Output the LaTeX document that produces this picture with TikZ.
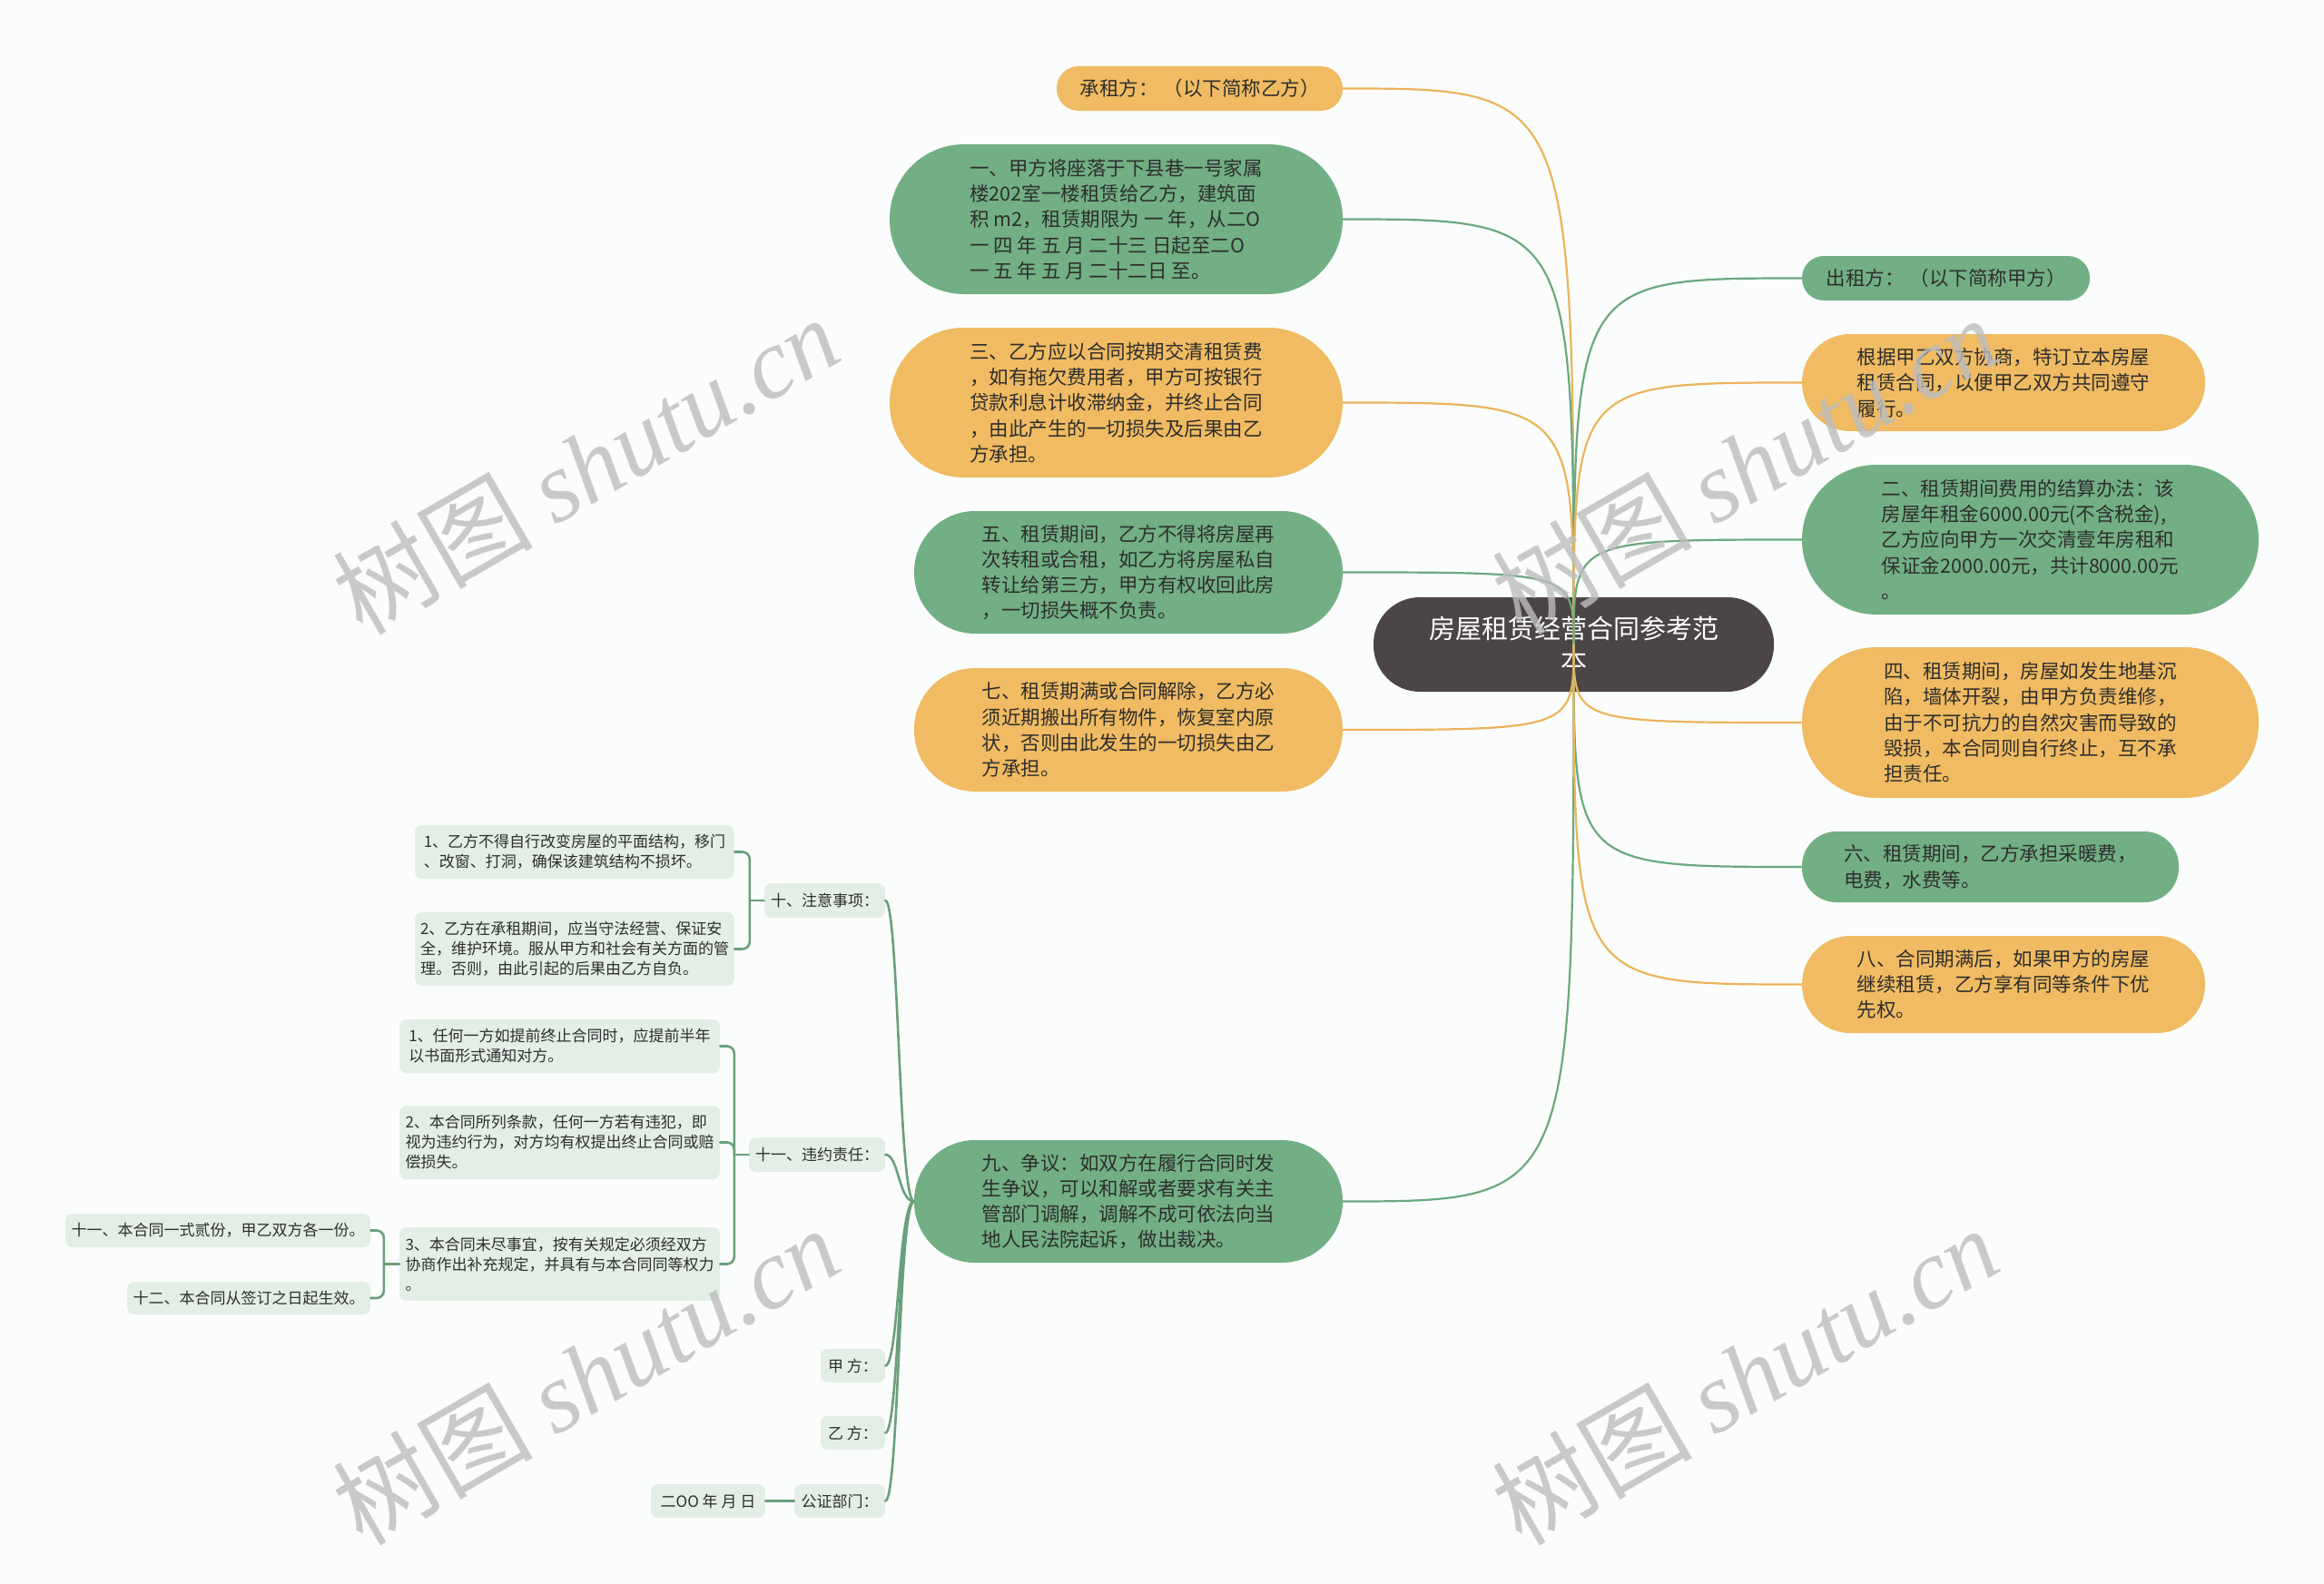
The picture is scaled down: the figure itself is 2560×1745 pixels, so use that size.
\documentclass[tikz,border=0pt]{standalone}
\usepackage{fontspec}
\setmainfont{Noto Sans CJK SC}
\newfontfamily\wmserif{Liberation Serif}
\usetikzlibrary{calc}
\definecolor{bgc}{HTML}{FAFDFC}
\definecolor{orng}{HTML}{F0BB62}
\definecolor{grn}{HTML}{72AF84}
\definecolor{rootc}{HTML}{4B4545}
\definecolor{lite}{HTML}{E3EEE6}
\definecolor{txt}{HTML}{2E2E2E}
\definecolor{lorng}{HTML}{ECB45A}
\definecolor{lgrn}{HTML}{6CA87E}
\definecolor{subc}{HTML}{6A9F7B}
\definecolor{wmc}{HTML}{BDBDBD}
\newcommand\fbig{\fontsize{21.5}{28.3}\selectfont}
\newcommand\fsml{\fontsize{17}{22}\selectfont}
\newcommand\froot{\fontsize{29}{35}\selectfont}
\newcommand\fwmk{\fontsize{110}{110}\selectfont}
\begin{document}
\begin{tikzpicture}[x=1pt,y=-1pt,
  pill/.style n args={3}{minimum width=#1pt, minimum height=#2pt, rounded corners=#3pt,
    inner sep=0pt, align=left, text=txt, font=\fbig},
  tag/.style 2 args={minimum width=#1pt, minimum height=#2pt, rounded corners=8pt,
    inner sep=0pt, align=left, text=txt, font=\fsml, fill=lite},
  olink/.style={draw=lorng, line width=2.2pt},
  glink/.style={draw=lgrn, line width=2.2pt},
  slink/.style={draw=subc, line width=2.6pt, line cap=round},
  wmark/.style={text=wmc, opacity=0.8, font=\fwmk, rotate=30, inner sep=0pt}]

\fill[bgc] (0,0) rectangle (2560,1745);
\useasboundingbox (0,0) rectangle (2560,1745);

% root
\node[minimum width=441pt, minimum height=104pt, rounded corners=51pt, fill=rootc,
  text=white, font=\froot, align=center, inner sep=0pt] (root) at (1733.5,710)
  {房屋租赁经营合同参考范\\本};

% left main branches
\node[pill={315}{49}{24}, fill=orng] (chengzu) at (1321.5,97.5) {承租方：\hspace{6pt}（以下简称乙方）};
\node[pill={499}{165}{82}, fill=grn] (n1) at (1229.5,241.5)
  {一、甲方将座落于下县巷一号家属\\楼202室一楼租赁给乙方，建筑面\\积 m2，租赁期限为 一 年，从二O\\一 四 年 五 月 二十三 日起至二O\\一 五 年 五 月 二十二日 至。};
\node[pill={499}{165}{82}, fill=orng] (n3) at (1229.5,443.5)
  {三、乙方应以合同按期交清租赁费\\，如有拖欠费用者，甲方可按银行\\贷款利息计收滞纳金，并终止合同\\，由此产生的一切损失及后果由乙\\方承担。};
\node[pill={472}{135}{67}, fill=grn] (n5) at (1243,630.5)
  {五、租赁期间，乙方不得将房屋再\\次转租或合租，如乙方将房屋私自\\转让给第三方，甲方有权收回此房\\，一切损失概不负责。};
\node[pill={472}{136}{67}, fill=orng] (n7) at (1243,804)
  {七、租赁期满或合同解除，乙方必\\须近期搬出所有物件，恢复室内原\\状，否则由此发生的一切损失由乙\\方承担。};
\node[pill={472}{135}{67}, fill=grn] (n9) at (1243,1323.5)
  {九、争议：如双方在履行合同时发\\生争议，可以和解或者要求有关主\\管部门调解，调解不成可依法向当\\地人民法院起诉，做出裁决。};

% right main branches
\node[pill={317}{49}{24}, fill=grn] (chuzu) at (2143.5,306.5) {出租方：\hspace{6pt}（以下简称甲方）};
\node[pill={444}{107}{53}, fill=orng] (gen) at (2207,421.5)
  {根据甲乙双方协商，特订立本房屋\\租赁合同，以便甲乙双方共同遵守\\履行。};
\node[pill={503}{165}{82}, fill=grn] (n2) at (2236.5,594.5)
  {二、租赁期间费用的结算办法：该\\房屋年租金6000.00元(不含税金),\\乙方应向甲方一次交清壹年房租和\\保证金2000.00元，共计8000.00元\\。};
\node[pill={503}{166}{82}, fill=orng] (n4) at (2236.5,796)
  {四、租赁期间，房屋如发生地基沉\\陷，墙体开裂，由甲方负责维修，\\由于不可抗力的自然灾害而导致的\\毁损，本合同则自行终止，互不承\\担责任。};
\node[pill={415}{78}{38}, fill=grn] (n6) at (2192.5,955)
  {六、租赁期间，乙方承担采暖费，\\电费，水费等。};
\node[pill={444}{107}{53}, fill=orng] (n8) at (2207,1084.5)
  {八、合同期满后，如果甲方的房屋\\继续租赁，乙方享有同等条件下优\\先权。};

% left subtree
\node[tag={133}{38}] (t10) at (908.5,992) {十、注意事项：};
\node[tag={352}{59}] (t1) at (633,938.5) {1、乙方不得自行改变房屋的平面结构，移门\\、改窗、打洞，确保该建筑结构不损坏。};
\node[tag={352}{81}] (t2) at (633,1045.5) {2、乙方在承租期间，应当守法经营、保证安\\全，维护环境。服从甲方和社会有关方面的管\\理。否则，由此引起的后果由乙方自负。};
\node[tag={150}{38}] (t11) at (900,1272) {十一、违约责任：};
\node[tag={353}{59}] (u1) at (616.5,1152.5) {1、任何一方如提前终止合同时，应提前半年\\以书面形式通知对方。};
\node[tag={353}{81}] (u2) at (616.5,1258.5) {2、本合同所列条款，任何一方若有违犯，即\\视为违约行为，对方均有权提出终止合同或赔\\偿损失。};
\node[tag={353}{81}] (u3) at (616.5,1392.5) {3、本合同未尽事宜，按有关规定必须经双方\\协商作出补充规定，并具有与本合同同等权力\\。};
\node[tag={336}{37}] (v1) at (240,1355.5) {十一、本合同一式贰份，甲乙双方各一份。};
\node[tag={268}{36}] (v2) at (274,1430) {十二、本合同从签订之日起生效。};
\node[tag={71}{37}] (jia) at (939.5,1504.5) {甲 方：};
\node[tag={71}{37}] (yi) at (939.5,1578.5) {乙 方：};
\node[tag={100}{37}] (gz) at (925,1653.5) {公证部门：};
\node[tag={126}{37}] (date) at (780,1653.5) {二OO 年 月 日};

% connectors from root
\draw[olink] (root.center) .. controls (root.center |- chengzu.east) .. (chengzu.east);
\draw[glink] (root.center) .. controls (root.center |- n1.east) .. (n1.east);
\draw[olink] (root.center) .. controls (root.center |- n3.east) .. (n3.east);
\draw[glink] (root.center) .. controls (root.center |- n5.east) .. (n5.east);
\draw[olink] (root.center) .. controls (root.center |- n7.east) .. (n7.east);
\draw[glink] (root.center) .. controls (root.center |- n9.east) .. (n9.east);
\draw[glink] (root.center) .. controls (root.center |- chuzu.west) .. (chuzu.west);
\draw[olink] (root.center) .. controls (root.center |- gen.west) .. (gen.west);
\draw[glink] (root.center) .. controls (root.center |- n2.west) .. (n2.west);
\draw[olink] (root.center) .. controls (root.center |- n4.west) .. (n4.west);
\draw[glink] (root.center) .. controls (root.center |- n6.west) .. (n6.west);
\draw[olink] (root.center) .. controls (root.center |- n8.west) .. (n8.west);

% connectors from n9
\foreach \c in {t10,t11,jia,yi,gz}{
  \draw[slink] (n9.west) .. controls ($(n9.west)+(-17,0)$) and ($(\c.east)+(15,0)$) .. (\c.east);
}
\draw[slink] (gz.west) -- (date.east);

% brackets
\foreach \c in {t1,t2}{
  \draw[slink, rounded corners=8pt] (\c.east) -| ($(t10.west)+(-16,0)$);
}
\draw[slink] ($(t10.west)+(-16,0)$) -- (t10.west);
\foreach \c in {u1,u2,u3}{
  \draw[slink, rounded corners=8pt] (\c.east) -| ($(t11.west)+(-16,0)$);
}
\draw[slink] ($(t11.west)+(-16,0)$) -- (t11.west);
\foreach \c in {v1,v2}{
  \draw[slink, rounded corners=8pt] (\c.east) -| ($(u3.west)+(-17,0)$);
}
\draw[slink] ($(u3.west)+(-17,0)$) -- (u3.west);

% watermarks
\node[wmark] (w1) at (645,512) {树图 {\wmserif\itshape shutu.cn}};
\node[wmark] (w2) at (1922,512) {树图 {\wmserif\itshape shutu.cn}};
\node[wmark] (w3) at (645,1515) {树图 {\wmserif\itshape shutu.cn}};
\node[wmark] (w4) at (1922,1515) {树图 {\wmserif\itshape shutu.cn}};
\end{tikzpicture}
\end{document}
